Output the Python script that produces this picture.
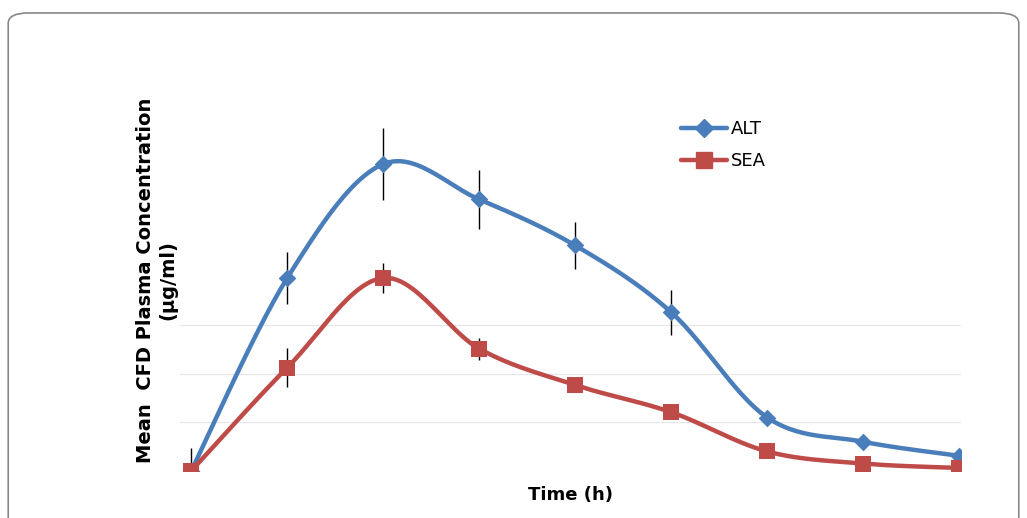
import numpy as np, pandas as pd, seaborn as sns, matplotlib
matplotlib.use("Agg")
import matplotlib.pyplot as plt
from matplotlib.patches import FancyBboxPatch

time_idx = [0, 1, 2, 3, 4, 5, 6, 7, 8]
alt = [0, 3.98, 6.33, 5.6, 4.65, 3.27, 1.10, 0.60, 0.31]
alt_err = [0.48, 0.54, 0.75, 0.6, 0.49, 0.46, 0, 0, 0]
sea = [0, 2.13, 3.98, 2.52, 1.77, 1.21, 0.40, 0.15, 0.06]
sea_err = [0, 0.4, 0.3, 0.23, 0, 0, 0, 0, 0]

sns.set_style("white")
plt.rcParams["text.color"] = "black"
plt.rcParams["axes.labelcolor"] = "black"
fig = plt.figure(figsize=(10.27, 5.18), dpi=100)
fig.patches.append(FancyBboxPatch((0.008, -0.05), 0.984, 1.025, boxstyle="round,pad=0,rounding_size=0.02",
                                  transform=fig.transFigure, fill=False, ec="#888888", lw=1.2))
ax = fig.add_axes([0.175, 0.091, 0.761, 0.80])

def catmull(x, y, n=30):
    x = np.asarray(x, float); y = np.asarray(y, float)
    P = np.column_stack([x, y])
    P = np.vstack([P[0], P, P[-1]])
    out = []
    for i in range(1, len(P) - 2):
        p0, p1, p2, p3 = P[i-1], P[i], P[i+1], P[i+2]
        t = np.linspace(0, 1, n)[:, None]
        pts = 0.5*((2*p1) + (-p0+p2)*t + (2*p0-5*p1+4*p2-p3)*t**2 + (-p0+3*p1-3*p2+p3)*t**3)
        out.append(pts)
    return np.vstack(out)

for yv in [1, 2, 3]:
    ax.axhline(yv, color="#e6e6e6", lw=0.8, zorder=0)

ax.errorbar(time_idx, alt, yerr=alt_err, fmt="none", ecolor="black", elinewidth=1, zorder=1)
ax.errorbar(time_idx, sea, yerr=sea_err, fmt="none", ecolor="black", elinewidth=1, zorder=1)

for vals, col, mk, ms, lab in [(alt, "#4a7ebb", "D", 9, "ALT"), (sea, "#be4b48", "s", 11, "SEA")]:
    c = catmull(time_idx, vals)
    d = pd.DataFrame({"x": c[:, 0], "y": c[:, 1]})
    sns.lineplot(data=d, x="x", y="y", ax=ax, color=col, lw=3.2, sort=False, zorder=2)
    sns.scatterplot(x=time_idx, y=vals, ax=ax, color=col, marker=mk, s=ms**2, linewidth=0, zorder=3)
    ax.plot([], [], color=col, lw=3.2, marker=mk, ms=ms, label=lab)

ax.set_xlim(-0.12, 8.02)
ax.set_ylim(0, 8.55)
ax.set_xticks([]); ax.set_yticks([])
for s in ax.spines.values():
    s.set_visible(False)
ax.set_xlabel("Time (h)", fontsize=13, fontweight="bold", labelpad=11)
ax.set_ylabel("Mean  CFD Plasma Concentration\n(µg/ml)", fontsize=14, fontweight="bold")
ax.yaxis.set_label_coords(-0.003, 0.46)
ax.legend(loc="upper left", bbox_to_anchor=(0.62, 0.885), frameon=False, fontsize=13,
          handlelength=2.6, handletextpad=0.2, labelspacing=0.75)
fig.savefig("out.png", dpi=100)
